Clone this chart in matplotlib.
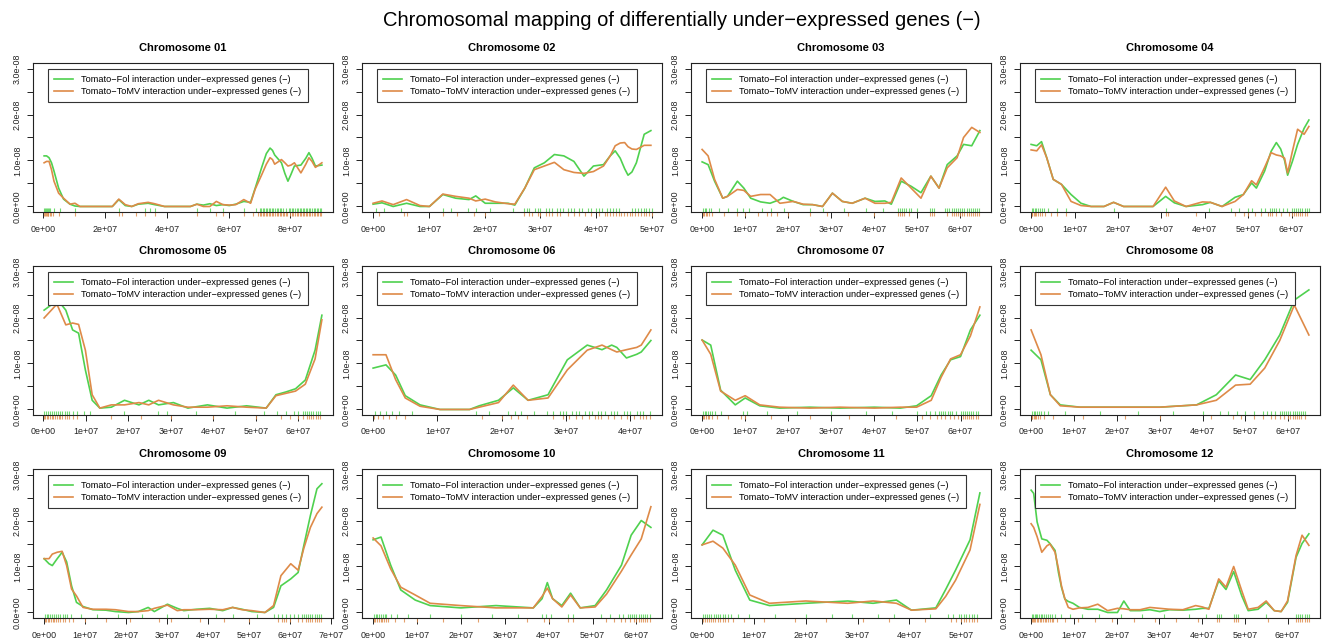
import numpy as np
import matplotlib
matplotlib.use('Agg')
import matplotlib.pyplot as plt
from matplotlib import transforms

plt.rcParams['font.family'] = ['Liberation Sans', 'DejaVu Sans']

fol_col = '#4fd14f'
tomv_col = '#de8a48'
fol_label = 'Tomato\u2212Fol interaction under\u2212expressed genes (\u2212)'
tomv_label = 'Tomato\u2212ToMV interaction under\u2212expressed genes (\u2212)'

# positions in Mb, densities in units of 1e-8
x01 = [0.2, 1.0, 1.8, 2.6, 3.4, 4.9, 6.5, 8.6, 10.2, 11.8, 18.1, 22.3, 24.4, 26.5, 28.6, 30.7, 33.9, 36.0, 39.2, 47.6,
       49.7, 51.8, 53.9, 56.0, 58.1, 60.2, 62.3, 64.9, 67.1, 68.6, 70.7, 72.2, 73.4, 74.2, 74.9, 77.1, 78.2, 79.2, 80.2,
       81.3, 83.4, 85.0, 86.0, 87.0, 88.1, 90.2]
fol01 = [1.10, 1.10, 1.06, 0.95, 0.77, 0.40, 0.16, 0.05, 0.01, 0.00, 0.00, 0.00, 0.15, 0.02, 0.00, 0.05, 0.07, 0.04, 0.00, 0.00,
         0.05, 0.03, 0.06, 0.02, 0.04, 0.02, 0.05, 0.11, 0.09, 0.40, 0.85, 1.15, 1.27, 1.22, 1.12, 0.95, 0.72, 0.55, 0.70,
         0.88, 0.90, 1.05, 1.17, 1.05, 0.88, 0.90]
tomv01 = [0.95, 0.98, 0.98, 0.80, 0.55, 0.29, 0.18, 0.05, 0.07, 0.00, 0.00, 0.00, 0.16, 0.04, 0.00, 0.06, 0.09, 0.06, 0.00, 0.00,
          0.05, 0.00, 0.00, 0.11, 0.04, 0.03, 0.04, 0.15, 0.07, 0.38, 0.69, 0.92, 1.06, 1.02, 0.92, 1.02, 0.95, 0.88, 0.90,
          0.95, 0.73, 0.92, 1.06, 0.98, 0.85, 0.95]

x02 = [0.0, 1.6, 3.6, 6.0, 8.4, 10.1, 12.5, 14.8, 17.2, 18.4, 20.1, 21.9, 24.2, 25.4, 27.2, 28.9, 30.7, 32.5, 34.2, 36.0,
       37.8, 39.5, 41.3, 42.5, 43.4, 44.3, 45.1, 45.7, 46.4, 47.2, 48.6, 49.8]
fol02 = [0.05, 0.08, 0.0, 0.07, 0.0, 0.0, 0.26, 0.18, 0.15, 0.23, 0.07, 0.07, 0.07, 0.03, 0.40, 0.84, 0.95, 1.13, 1.10, 0.98,
         0.66, 0.88, 0.91, 1.10, 1.21, 1.05, 0.82, 0.68, 0.75, 0.95, 1.57, 1.65]
tomv02 = [0.07, 0.12, 0.04, 0.15, 0.02, 0.0, 0.27, 0.22, 0.18, 0.12, 0.16, 0.10, 0.06, 0.05, 0.40, 0.80, 0.88, 0.96, 0.80, 0.74,
          0.72, 0.76, 0.88, 1.10, 1.32, 1.38, 1.39, 1.30, 1.25, 1.24, 1.33, 1.33]

x03 = [0.0, 1.4, 2.9, 4.8, 5.9, 8.2, 9.7, 11.3, 13.6, 15.8, 18.1, 18.9, 21.2, 23.5, 25.7, 28.0, 30.3, 32.6, 34.9, 37.9,
       40.2, 42.5, 44.0, 46.3, 48.6, 50.9, 53.2, 55.1, 57.0, 59.3, 60.8, 62.7, 64.6]
fol03 = [0.97, 0.91, 0.55, 0.18, 0.22, 0.55, 0.40, 0.18, 0.10, 0.07, 0.15, 0.20, 0.11, 0.04, 0.04, 0.0, 0.29, 0.11, 0.07, 0.18,
         0.11, 0.12, 0.05, 0.55, 0.44, 0.30, 0.66, 0.40, 0.91, 1.10, 1.35, 1.32, 1.65]
tomv03 = [1.24, 1.10, 0.59, 0.18, 0.22, 0.37, 0.35, 0.22, 0.26, 0.26, 0.07, 0.08, 0.11, 0.05, 0.04, 0.0, 0.29, 0.11, 0.07, 0.18,
          0.07, 0.07, 0.09, 0.62, 0.40, 0.18, 0.66, 0.40, 0.84, 1.06, 1.50, 1.72, 1.61]

x04 = [0.0, 1.3, 2.4, 3.6, 5.1, 7.0, 9.2, 11.5, 13.8, 16.8, 19.0, 21.3, 28.1, 31.0, 33.0, 35.7, 39.5, 41.3, 44.0, 47.0,
       48.9, 50.8, 51.9, 53.8, 55.3, 56.5, 57.5, 58.4, 59.1, 60.2, 61.4, 62.9, 64.0]
fol04 = [1.35, 1.32, 1.41, 1.06, 0.59, 0.48, 0.26, 0.07, 0.0, 0.0, 0.09, 0.0, 0.0, 0.22, 0.08, 0.0, 0.04, 0.09, 0.0, 0.20,
         0.26, 0.51, 0.40, 0.77, 1.20, 1.39, 1.25, 1.00, 0.68, 0.98, 1.35, 1.70, 1.88]
tomv04 = [1.23, 1.21, 1.34, 1.06, 0.59, 0.48, 0.11, 0.02, 0.0, 0.0, 0.09, 0.0, 0.0, 0.42, 0.12, 0.0, 0.10, 0.09, 0.0, 0.11,
          0.26, 0.56, 0.47, 0.85, 1.17, 1.12, 1.10, 1.05, 0.73, 1.20, 1.68, 1.57, 1.74]

x05 = [0.2, 3.0, 3.4, 5.3, 6.9, 8.3, 9.9, 11.5, 13.3, 16.0, 19.1, 22.5, 24.8, 27.1, 30.6, 34.0, 38.6, 43.2, 47.8, 52.4,
       54.7, 57.0, 59.3, 61.6, 63.9, 65.5]
fol05 = [2.16, 2.35, 2.38, 2.16, 1.73, 1.66, 0.86, 0.20, 0.03, 0.05, 0.20, 0.10, 0.20, 0.10, 0.15, 0.03, 0.10, 0.03, 0.08, 0.03,
         0.32, 0.38, 0.45, 0.64, 1.29, 2.05]
tomv05 = [1.99, 2.27, 2.25, 1.84, 1.88, 1.85, 1.29, 0.32, 0.03, 0.10, 0.10, 0.15, 0.10, 0.20, 0.10, 0.05, 0.05, 0.08, 0.05, 0.03,
          0.30, 0.35, 0.40, 0.55, 1.10, 1.95]

x06 = [0.0, 2.0, 3.5, 5.0, 7.3, 10.4, 15.0, 16.5, 19.5, 21.8, 24.1, 27.2, 30.2, 33.3, 35.6, 37.1, 37.9, 39.4, 41.0, 41.7, 43.2]
fol06 = [0.90, 0.97, 0.75, 0.30, 0.10, 0.0, 0.0, 0.08, 0.20, 0.47, 0.20, 0.32, 1.08, 1.40, 1.30, 1.40, 1.35, 1.12, 1.20, 1.25, 1.50]
tomv06 = [1.19, 1.19, 0.65, 0.25, 0.07, 0.0, 0.0, 0.05, 0.15, 0.53, 0.20, 0.25, 0.86, 1.29, 1.40, 1.30, 1.25, 1.30, 1.35, 1.40, 1.73]

x07 = [0.0, 2.0, 4.3, 7.7, 10.0, 13.4, 18.0, 25.0, 32.0, 40.0, 46.0, 49.8, 53.2, 55.5, 57.7, 60.0, 62.3, 64.5]
fol07 = [1.51, 1.40, 0.42, 0.10, 0.25, 0.08, 0.03, 0.05, 0.03, 0.05, 0.03, 0.08, 0.30, 0.75, 1.08, 1.15, 1.73, 2.05]
tomv07 = [1.51, 1.20, 0.40, 0.20, 0.30, 0.10, 0.05, 0.03, 0.05, 0.03, 0.05, 0.05, 0.20, 0.70, 1.10, 1.19, 1.60, 2.23]

x08 = [0.0, 2.3, 4.5, 6.8, 11.4, 20.0, 30.0, 38.6, 43.2, 47.7, 51.1, 54.5, 58.0, 61.4, 64.8]
fol08 = [1.29, 1.08, 0.32, 0.10, 0.05, 0.05, 0.05, 0.10, 0.32, 0.75, 0.65, 1.08, 1.62, 2.38, 2.60]
tomv08 = [1.73, 1.19, 0.32, 0.08, 0.05, 0.05, 0.05, 0.10, 0.20, 0.53, 0.55, 0.90, 1.50, 2.27, 1.62]

x09 = [0.0, 1.2, 2.0, 3.2, 4.4, 5.5, 6.7, 7.9, 9.5, 11.9, 15.1, 17.4, 20.6, 23.0, 25.4, 26.9, 30.1, 32.5, 34.1, 37.2,
       40.4, 43.6, 46.0, 48.3, 50.7, 53.9, 56.0, 57.8, 60.2, 62.0, 63.4, 65.0, 66.6, 67.8]
fol09 = [1.17, 1.06, 1.02, 1.17, 1.31, 1.10, 0.58, 0.22, 0.13, 0.06, 0.05, 0.02, 0.0, 0.02, 0.11, 0.02, 0.18, 0.09, 0.04, 0.07,
         0.09, 0.04, 0.11, 0.07, 0.02, 0.0, 0.11, 0.58, 0.73, 0.87, 1.46, 2.11, 2.69, 2.80]
tomv09 = [1.17, 1.17, 1.27, 1.31, 1.33, 1.02, 0.51, 0.36, 0.11, 0.07, 0.07, 0.06, 0.02, 0.02, 0.04, 0.09, 0.16, 0.04, 0.06, 0.06,
          0.07, 0.06, 0.11, 0.06, 0.04, 0.0, 0.15, 0.80, 1.06, 0.92, 1.40, 1.85, 2.15, 2.29]

x10 = [0.0, 1.8, 4.0, 6.3, 9.6, 13.0, 20.0, 28.0, 36.5, 38.5, 39.7, 40.9, 43.0, 45.0, 47.2, 50.6, 53.2, 56.6, 58.8, 61.1, 63.3]
fol10 = [1.58, 1.64, 1.03, 0.49, 0.27, 0.15, 0.10, 0.15, 0.10, 0.30, 0.65, 0.30, 0.15, 0.42, 0.10, 0.15, 0.49, 1.03, 1.68, 2.00, 1.85]
tomv10 = [1.62, 1.45, 0.95, 0.55, 0.38, 0.20, 0.15, 0.10, 0.10, 0.35, 0.53, 0.30, 0.12, 0.38, 0.10, 0.12, 0.40, 0.90, 1.25, 1.60, 2.30]

x11 = [0.0, 2.1, 4.0, 6.4, 9.2, 13.0, 20.0, 28.1, 33.0, 37.5, 40.4, 45.1, 47.0, 48.9, 51.7, 53.6]
fol11 = [1.47, 1.79, 1.68, 0.92, 0.27, 0.15, 0.20, 0.25, 0.20, 0.27, 0.05, 0.10, 0.50, 0.92, 1.58, 2.60]
tomv11 = [1.47, 1.55, 1.40, 1.03, 0.38, 0.20, 0.25, 0.20, 0.25, 0.20, 0.05, 0.08, 0.35, 0.70, 1.36, 2.35]

x12 = [0.0, 0.6, 1.4, 2.5, 3.7, 4.4, 5.6, 6.4, 7.1, 7.9, 8.7, 9.8, 11.3, 13.3, 15.6, 17.9, 20.2, 21.7, 23.2, 25.5,
       27.8, 30.1, 32.4, 35.5, 38.5, 40.1, 41.6, 43.9, 45.6, 47.4, 49.3, 50.8, 53.1, 55.0, 56.9, 58.5, 60.0, 62.0, 63.4, 65.0]
fol12 = [2.66, 2.59, 1.97, 1.60, 1.57, 1.50, 1.35, 0.87, 0.55, 0.29, 0.24, 0.20, 0.11, 0.07, 0.07, 0.0, 0.0, 0.25, 0.04, 0.04,
         0.06, 0.02, 0.06, 0.05, 0.07, 0.09, 0.09, 0.69, 0.50, 0.89, 0.36, 0.04, 0.07, 0.22, 0.04, 0.02, 0.22, 1.20, 1.50, 1.71]
tomv12 = [1.93, 1.85, 1.65, 1.31, 1.45, 1.49, 1.31, 0.95, 0.58, 0.30, 0.11, 0.07, 0.10, 0.11, 0.18, 0.04, 0.09, 0.08, 0.06, 0.06,
          0.11, 0.09, 0.07, 0.06, 0.15, 0.12, 0.07, 0.73, 0.55, 1.00, 0.47, 0.07, 0.11, 0.25, 0.04, 0.02, 0.25, 1.24, 1.68, 1.46]

# gene positions (Mb) for the rugs
rug_fol01 = [0.2, 0.5, 0.8, 1.1, 1.4, 1.8, 2.2, 3.5, 5.5, 10.2, 24.4, 33, 34.5, 36, 49.7, 54, 58, 65, 69, 70, 70.5, 71,
             71.5, 72, 72.5, 73, 73.5, 74, 74.5, 75, 75.5, 76, 76.5, 77, 77.5, 78.5, 79.5, 80, 80.5, 81, 81.5, 82, 82.5,
             83, 83.5, 84, 84.5, 85, 85.5, 86, 86.5, 87, 87.5, 88, 88.5, 89, 89.5, 90]
rug_tomv01 = [0.2, 0.4, 0.7, 1.0, 1.3, 1.6, 2.0, 2.5, 3.0, 5.0, 10.2, 24.4, 25.5, 30, 33, 36, 49.7, 56, 58, 65, 68, 69.5,
              70, 70.5, 71, 71.5, 72, 72.5, 73, 73.5, 74, 74.5, 75, 75.5, 76, 76.5, 77, 77.5, 78, 78.5, 79, 80, 80.5, 81,
              81.5, 82, 82.5, 83, 83.5, 84, 84.5, 85, 85.5, 86, 86.5, 87, 87.5, 88, 88.5, 89, 89.5, 90]
rug_fol02 = [0.5, 2, 5, 12.5, 14, 17, 18.5, 21, 25, 27, 27.5, 28, 29, 29.5, 30, 31, 31.5, 32, 33, 33.5, 34, 35, 35.5, 36,
             37, 37.5, 38.5, 39, 40, 40.5, 41, 42, 42.5, 43, 43.5, 44, 46.5, 47, 47.5, 48, 48.5, 49, 49.5, 50]
rug_tomv02 = [1, 5.5, 6, 12.5, 15, 18, 20, 27, 28, 28.5, 29.5, 30, 31, 31.5, 32, 33, 33.5, 35, 36, 37, 38, 39, 40.5, 41.5,
              42, 42.5, 43, 43.5, 44, 44.5, 45, 45.5, 46, 46.5, 47, 47.5, 48, 48.5, 49, 49.5, 50]
rug_fol03 = [0.2, 0.6, 1.0, 1.5, 2.0, 4, 6, 8, 9.5, 11, 14, 16, 19, 25, 28, 33, 38, 42, 45.5, 46, 46.5, 47, 47.5, 48, 48.5,
             50, 53, 53.5, 54, 56.5, 57, 57.5, 58, 58.5, 59, 59.5, 60, 60.5, 61, 61.5, 62, 62.5, 63, 63.5, 64, 64.5]
rug_tomv03 = [0.1, 0.4, 0.8, 1.2, 1.6, 2.2, 5, 8, 10, 13, 15, 16, 17.5, 20, 25, 29, 34, 40, 45.5, 46, 46.5, 47, 48, 53,
              53.5, 54, 57, 58, 58.5, 59, 59.5, 60, 60.5, 61, 61.5, 62, 62.5, 63, 63.5, 64, 64.5]
rug_fol04 = [0.2, 0.5, 0.8, 1.1, 1.5, 2.0, 2.5, 3, 4, 6, 8, 19, 31, 41, 46, 48, 50, 51, 53, 54, 55, 55.5, 56, 56.5, 57, 58,
             59, 60, 60.5, 61, 61.5, 62, 62.5, 63, 63.5, 64]
rug_tomv04 = [0.1, 0.3, 0.6, 0.9, 1.2, 1.6, 2.0, 2.5, 3.2, 4.5, 6, 8, 31, 31.5, 38, 47, 49, 50, 51.5, 53, 54.5, 55, 55.5,
              56.5, 57.5, 59.5, 60, 60.5, 61, 61.5, 62, 62.5, 63, 63.5]
rug_fol05 = [0.2, 0.6, 1, 1.5, 2, 2.5, 3, 3.5, 4, 4.5, 5, 5.5, 6, 7, 8, 9.5, 11, 19, 27, 29, 36, 45, 52, 55, 57, 59, 60,
             61, 61.5, 62, 62.5, 63, 63.5, 64, 64.5, 65]
rug_tomv05 = [0.1, 0.4, 0.8, 1.2, 1.6, 2, 2.4, 2.8, 3.2, 3.6, 4, 4.5, 5, 5.5, 6, 7, 8, 16, 23, 30, 40, 50, 56, 58, 60,
              61, 62, 62.5, 63, 63.5, 64, 64.5, 65]
rug_fol06 = [0.3, 1, 2, 3, 4, 6, 16, 18, 21, 22, 23, 25, 27, 28, 29, 29.5, 30, 31, 31.5, 32, 33, 33.5, 34, 35, 35.5, 36,
             37, 37.5, 38, 39, 39.5, 40, 41, 41.5, 42, 43]
rug_tomv06 = [0.2, 0.8, 1.5, 2.5, 3.5, 5, 17, 20, 21.5, 22.5, 24, 28, 29.5, 30.5, 31.5, 32.5, 33.5, 34.5, 35, 35.5, 36.5,
              37.5, 38.5, 39.5, 40.5, 41.5, 42, 42.5, 43]
rug_fol07 = [0.2, 0.6, 1.0, 1.4, 1.8, 2.3, 3, 4.5, 9.5, 10.5, 15, 22, 30, 38, 44, 50, 52, 53, 54, 55, 55.5, 56, 56.5, 57,
             57.5, 58, 59, 60, 60.5, 61, 61.5, 62, 62.5, 63, 63.5, 64]
rug_tomv07 = [0.1, 0.5, 0.9, 1.3, 1.7, 2.2, 3.5, 6, 9, 10, 16, 25, 34, 45, 51, 53, 54.5, 55.5, 56.5, 57.5, 58.5, 59.5,
              60.5, 61, 61.5, 62, 62.5, 63, 63.5, 64]
rug_fol08 = [0.2, 0.6, 1.0, 1.4, 1.8, 2.3, 3, 4, 8, 16, 25, 33, 40, 44, 46, 48, 50, 52, 54, 55, 56, 57, 58, 58.5, 59, 59.5,
             60, 60.5, 61, 61.5, 62, 62.5, 63, 63.5, 64]
rug_tomv08 = [0.1, 0.3, 0.6, 0.9, 1.2, 1.5, 2, 3, 5, 12, 22, 30, 42, 47, 49, 52, 54, 56, 57, 58, 59, 60, 60.5, 61, 61.5, 62,
              62.5, 63, 64]
rug_fol09 = [0.2, 0.6, 1, 1.5, 2, 2.5, 3, 3.5, 4, 4.5, 5, 5.5, 6.5, 9, 13, 18, 24, 30, 35, 42, 46, 52, 56, 57, 58, 59, 60,
             61, 62, 63, 63.5, 64, 64.5, 65, 65.5, 66, 66.5, 67, 67.5]
rug_tomv09 = [0.1, 0.5, 0.9, 1.3, 1.7, 2.1, 2.5, 3, 3.5, 4, 4.5, 5, 6, 7, 10, 15, 21, 28, 31, 38, 44, 50, 57, 58, 58.5, 59,
              60, 62, 63, 64, 64.5, 65, 65.5, 66, 66.5, 67, 67.5]
rug_fol10 = [0.2, 0.6, 1, 1.4, 1.8, 2.2, 2.6, 3, 4, 5.5, 8, 13, 20, 27, 33, 38.5, 39.5, 40.5, 44.5, 45.5, 52, 54, 56,
             57, 58, 58.5, 59, 59.5, 60, 60.5, 61, 61.5, 62, 62.5, 63]
rug_tomv10 = [0.1, 0.5, 0.9, 1.3, 1.7, 2.1, 2.5, 3, 3.5, 5, 7, 10, 16, 24, 35, 39, 40, 44.5, 45.5, 53, 55, 56.5, 57.5, 58.5,
              59.5, 60, 60.5, 61, 61.5, 62, 62.5, 63]
rug_fol11 = [0.2, 0.6, 1, 1.4, 1.8, 2.2, 2.6, 3, 3.5, 4, 4.5, 5, 5.5, 7, 9, 14, 20, 25, 29, 34, 37, 44, 47.5, 48.5, 49.5,
             50, 50.5, 51, 51.5, 52, 52.5, 53]
rug_tomv11 = [0.1, 0.5, 0.9, 1.3, 1.7, 2.1, 2.5, 3, 3.5, 4, 4.5, 5, 6, 8, 12, 18, 24, 31, 36, 43, 48, 49, 50, 50.5, 51, 51.5,
              52, 52.5, 53]
rug_fol12 = [0.2, 0.5, 0.8, 1.1, 1.4, 1.8, 2.2, 2.6, 3, 3.5, 4, 4.5, 5, 5.5, 7, 9, 12, 16, 21, 26, 31, 37, 41, 43.5, 44,
             44.5, 47.5, 48, 48.5, 55, 62, 62.5, 63, 63.5, 64, 64.5, 65]
rug_tomv12 = [0.1, 0.4, 0.7, 1.0, 1.3, 1.6, 2, 2.4, 2.8, 3.2, 3.6, 4, 4.4, 4.8, 5.2, 6, 8, 11, 15, 19, 24, 29, 34, 39, 43.5,
              44, 47.5, 48, 48.5, 55.5, 62, 62.5, 63, 63.5, 64, 64.5, 65]

chroms = ['01', '02', '03', '04', '05', '06', '07', '08', '09', '10', '11', '12']
xs = [x01, x02, x03, x04, x05, x06, x07, x08, x09, x10, x11, x12]
fols = [fol01, fol02, fol03, fol04, fol05, fol06, fol07, fol08, fol09, fol10, fol11, fol12]
tomvs = [tomv01, tomv02, tomv03, tomv04, tomv05, tomv06, tomv07, tomv08, tomv09, tomv10, tomv11, tomv12]
rug_fols = [rug_fol01, rug_fol02, rug_fol03, rug_fol04, rug_fol05, rug_fol06,
            rug_fol07, rug_fol08, rug_fol09, rug_fol10, rug_fol11, rug_fol12]
rug_tomvs = [rug_tomv01, rug_tomv02, rug_tomv03, rug_tomv04, rug_tomv05, rug_tomv06,
             rug_tomv07, rug_tomv08, rug_tomv09, rug_tomv10, rug_tomv11, rug_tomv12]
xstep = [20, 10, 10, 10, 10, 10, 10, 10, 10, 10, 10, 10]

W, H = 1324, 641
fig = plt.figure(figsize=(W / 100, H / 100), dpi=100)
fig.text(682 / W, 1 - 20 / H, 'Chromosomal mapping of differentially under\u2212expressed genes (\u2212)',
         ha='center', va='center', fontsize=14.5)

yticks = np.arange(0, 3.01, 0.5) * 1e-8
ylabels = ['%.1e' % v if i % 2 == 0 else '' for i, v in enumerate(yticks)]

for i, name in enumerate(chroms):
    r, c = divmod(i, 4)
    ax = fig.add_axes([(33 + 329 * c) / W, 1 - (212 + 203 * r) / H, 300 / W, 149 / H])
    x = np.array(xs[i]) * 1e6
    ax.plot(x, np.array(fols[i]) * 1e-8, color=fol_col, lw=1.2, label=fol_label, solid_joinstyle='round')
    ax.plot(x, np.array(tomvs[i]) * 1e-8, color=tomv_col, lw=1.2, label=tomv_label, solid_joinstyle='round')

    # rugs: Fol just inside the frame, ToMV just outside
    tr = transforms.blended_transform_factory(ax.transData, ax.transAxes)
    ax.vlines(np.array(rug_fols[i]) * 1e6, 0.0, 0.03, transform=tr, color=fol_col, lw=0.8, alpha=0.8)
    ax.vlines(np.array(rug_tomvs[i]) * 1e6, -0.03, 0.0, transform=tr, color=tomv_col, lw=0.8, alpha=0.8,
              clip_on=False)

    span = x[-1] - x[0]
    lo, hi = x[0] - 0.04 * span, x[-1] + 0.04 * span
    ax.set_xlim(lo, hi)
    ax.set_ylim(-0.12e-8, 3.12e-8)

    step = xstep[i] * 1e6
    xt = np.arange(0, hi + 1, step)
    xt = xt[xt >= lo]
    ax.set_xticks(xt)
    ax.set_xticklabels(['%.0e' % v for v in xt])
    ax.set_yticks(yticks)
    ax.set_yticklabels(ylabels, rotation=90, va='center')
    ax.tick_params(direction='out', length=4, width=0.7, labelsize=6.4, colors='#222222')
    ax.tick_params(axis='x', pad=5)
    ax.tick_params(axis='y', pad=4)

    for s in ax.spines.values():
        s.set_linewidth(0.8)
        s.set_color('#222222')

    ax.set_title('Chromosome ' + name, fontsize=8, fontweight='bold', pad=8.5)

    leg = ax.legend(loc='upper left', bbox_to_anchor=(15 / 300, 1 - 6 / 149), fontsize=6.6,
                    fancybox=False, edgecolor='#333333', framealpha=1, borderaxespad=0,
                    borderpad=0.65, handlelength=2.1, handletextpad=0.9, labelspacing=0.35)
    leg.get_frame().set_linewidth(0.8)

fig.savefig('out.png', dpi=100)
